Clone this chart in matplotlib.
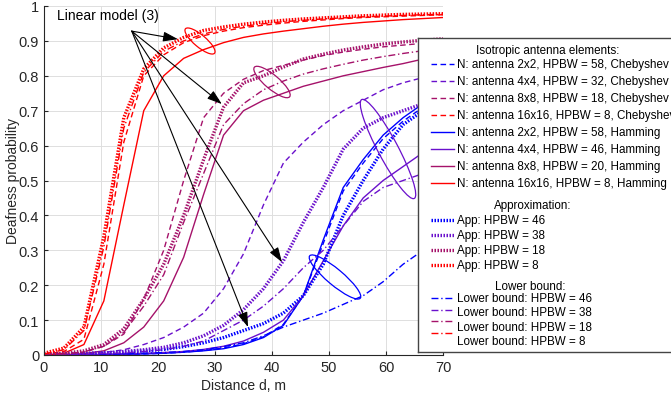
import matplotlib
matplotlib.use("Agg")
import matplotlib.pyplot as plt
from matplotlib.patches import Ellipse
from matplotlib.transforms import IdentityTransform

plt.rcParams['font.family'] = ['Liberation Sans', 'DejaVu Sans']

# distance grid, m
dist = [0, 3.5, 7, 10.5, 14, 17.5, 21, 24.5, 28, 31.5, 35, 38.5, 42, 45.5, 49, 52.5, 56, 59.5, 63, 66.5, 70]

# Chebyshev arrays (dashed)
cheb_2x2 = [0, 0, 0.001, 0.001, 0.002, 0.003, 0.005, 0.008, 0.013, 0.02, 0.032, 0.052, 0.088, 0.17, 0.32, 0.47, 0.55, 0.62, 0.67, 0.71, 0.75]
cheb_4x4 = [0, 0.001, 0.003, 0.007, 0.015, 0.03, 0.05, 0.08, 0.12, 0.19, 0.29, 0.43, 0.55, 0.61, 0.66, 0.70, 0.73, 0.76, 0.78, 0.795, 0.81]
cheb_8x8 = [0, 0.002, 0.008, 0.025, 0.06, 0.16, 0.30, 0.50, 0.68, 0.75, 0.79, 0.815, 0.83, 0.845, 0.858, 0.868, 0.876, 0.883, 0.888, 0.893, 0.897]
cheb_16x16 = [0.002, 0.01, 0.045, 0.26, 0.61, 0.80, 0.86, 0.895, 0.915, 0.928, 0.938, 0.945, 0.951, 0.956, 0.96, 0.964, 0.967, 0.969, 0.971, 0.973, 0.975]

# Hamming arrays (solid)
ham_2x2 = [0, 0, 0.001, 0.001, 0.002, 0.003, 0.005, 0.008, 0.012, 0.018, 0.03, 0.05, 0.085, 0.17, 0.33, 0.48, 0.56, 0.63, 0.68, 0.72, 0.76]
ham_4x4 = [0, 0, 0.001, 0.002, 0.003, 0.005, 0.007, 0.01, 0.016, 0.025, 0.04, 0.065, 0.10, 0.17, 0.27, 0.37, 0.45, 0.50, 0.54, 0.58, 0.61]
ham_8x8 = [0, 0.001, 0.004, 0.012, 0.035, 0.08, 0.155, 0.28, 0.46, 0.63, 0.70, 0.73, 0.75, 0.77, 0.785, 0.80, 0.812, 0.824, 0.835, 0.848, 0.86]
ham_16x16 = [0, 0.005, 0.03, 0.155, 0.43, 0.70, 0.80, 0.85, 0.875, 0.895, 0.91, 0.92, 0.928, 0.935, 0.942, 0.948, 0.953, 0.957, 0.961, 0.964, 0.967]

# approximation (thick dotted)
app_46 = [0.002, 0.003, 0.004, 0.006, 0.008, 0.012, 0.016, 0.024, 0.035, 0.05, 0.07, 0.09, 0.12, 0.17, 0.26, 0.40, 0.50, 0.59, 0.66, 0.70, 0.74]
app_38 = [0.001, 0.002, 0.004, 0.006, 0.01, 0.015, 0.022, 0.035, 0.055, 0.085, 0.13, 0.19, 0.27, 0.38, 0.48, 0.59, 0.65, 0.68, 0.70, 0.72, 0.735]
app_18 = [0.002, 0.005, 0.012, 0.03, 0.075, 0.16, 0.26, 0.40, 0.56, 0.71, 0.78, 0.80, 0.825, 0.848, 0.862, 0.874, 0.883, 0.891, 0.897, 0.902, 0.906]
app_8 = [0.005, 0.02, 0.08, 0.34, 0.68, 0.82, 0.88, 0.91, 0.93, 0.94, 0.948, 0.954, 0.959, 0.963, 0.966, 0.969, 0.972, 0.974, 0.976, 0.977, 0.978]

# lower bound (dash-dot)
low_46 = [0, 0, 0.001, 0.002, 0.003, 0.005, 0.007, 0.01, 0.015, 0.024, 0.035, 0.055, 0.08, 0.10, 0.12, 0.145, 0.17, 0.21, 0.26, 0.30, 0.33]
low_38 = [0, 0.001, 0.002, 0.004, 0.006, 0.01, 0.015, 0.025, 0.04, 0.07, 0.10, 0.14, 0.19, 0.25, 0.30, 0.37, 0.44, 0.48, 0.50, 0.52, 0.54]
low_18 = [0.001, 0.003, 0.009, 0.025, 0.065, 0.14, 0.23, 0.38, 0.52, 0.66, 0.72, 0.76, 0.785, 0.805, 0.82, 0.833, 0.845, 0.855, 0.864, 0.872, 0.879]
low_8 = [0.003, 0.015, 0.07, 0.31, 0.65, 0.81, 0.87, 0.90, 0.92, 0.933, 0.942, 0.949, 0.955, 0.959, 0.963, 0.966, 0.969, 0.971, 0.973, 0.975, 0.976]

colors = ['#0000FF', '#6A10CC', '#A5126A', '#FF0000']

cheb_labels = ["N: antenna 2x2, HPBW = 58, Chebyshev", "N: antenna 4x4, HPBW = 32, Chebyshev",
               "N: antenna 8x8, HPBW = 18, Chebyshev", "N: antenna 16x16, HPBW = 8, Chebyshev"]
ham_labels = ["N: antenna 2x2, HPBW = 58, Hamming", "N: antenna 4x4, HPBW = 46, Hamming",
              "N: antenna 8x8, HPBW = 20, Hamming", "N: antenna 16x16, HPBW = 8, Hamming"]
app_labels = ["App: HPBW = 46", "App: HPBW = 38", "App: HPBW = 18", "App: HPBW = 8"]
low_labels = ["Lower bound: HPBW = 46", "Lower bound: HPBW = 38",
              "Lower bound: HPBW = 18", "Lower bound: HPBW = 8"]

DASH = dict(ls=(0, (4, 2.5)), lw=1.0)
SOLID = dict(ls='-', lw=1.0)
DOT = dict(ls=(0, (0.45, 0.45)), lw=2.4)
DASHDOT = dict(ls=(0, (5, 2, 1, 2)), lw=1.0)

fig = plt.figure(figsize=(6.71, 4.02), dpi=100)
ax = fig.add_axes([44 / 671, 46 / 402, 399 / 671, 349 / 402])

groups = [
    ([cheb_2x2, cheb_4x4, cheb_8x8, cheb_16x16], DASH),
    ([ham_2x2, ham_4x4, ham_8x8, ham_16x16], SOLID),
    ([app_46, app_38, app_18, app_8], DOT),
    ([low_46, low_38, low_18, low_8], DASHDOT),
]
for series, style in groups:
    for vals, c in zip(series, colors):
        ax.plot(dist, vals, color=c, **style)

ax.set_xlim(0, 70)
ax.set_ylim(0, 1)
ax.set_xticks(range(0, 71, 10))
ax.set_yticks([i / 10 for i in range(11)])
ax.set_yticklabels(["0", "0.1", "0.2", "0.3", "0.4", "0.5", "0.6", "0.7", "0.8", "0.9", "1"])
ax.grid(True, color='#dedede', lw=0.7)
ax.set_axisbelow(True)
for s in ['top', 'right']:
    ax.spines[s].set_visible(False)
for s in ['left', 'bottom']:
    ax.spines[s].set_color('#262626')
    ax.spines[s].set_linewidth(0.8)
ax.tick_params(direction='in', length=3, labelsize=10.5, colors='#262626')
ax.set_xlabel("Distance d, m", fontsize=10, color='#262626', labelpad=3)
ax.set_ylabel("Deafness probability", fontsize=10, color='#262626', labelpad=-1)

# annotation: linear model arrows
ax.text(2.3, 0.975, "Linear model (3)", fontsize=10, va='center', ha='left')
for tip in [(23.5, 0.905), (31.2, 0.719), (41.75, 0.266), (35.8, 0.08)]:
    ax.annotate("", xy=tip, xytext=(15.4, 0.928),
                arrowprops=dict(arrowstyle='-|>,head_length=0.9,head_width=0.3',
                                color='black', lw=0.8, shrinkA=0, shrinkB=0))

# ellipses marking curve groups (pixel positions)
for (cx, cy, w, h, ang), c in zip([(335, 278, 66, 16, -40), (388, 150, 112, 20, -62),
                                   (272, 83, 46, 14, -40), (200, 42, 38, 12, -40)], colors):
    fig.add_artist(Ellipse((cx, 402 - cy), w, h, angle=ang, fill=False, ec=c, lw=0.9,
                           transform=IdentityTransform()))

# legend box
lg = fig.add_axes([418 / 671, 49 / 402, 320 / 671, 314 / 402], zorder=5)
lg.set_xlim(418, 738)
lg.set_ylim(353, 39)
lg.set_xticks([])
lg.set_yticks([])
lg.set_facecolor('white')
for s in lg.spines.values():
    s.set_color('#444444')
    s.set_linewidth(1.0)

FS = 8.4
lg.text(548, 51, "Isotropic antenna elements:", fontsize=FS, ha='center', va='center')
rows = [65 + 17 * i for i in range(8)]
entries = [(l, c, DASH) for l, c in zip(cheb_labels, colors)] + \
          [(l, c, SOLID) for l, c in zip(ham_labels, colors)]
for y, (lab, c, st) in zip(rows, entries):
    lg.plot([431, 454], [y, y], color=c, **st)
    lg.text(457, y, lab, fontsize=FS, va='center')

lg.text(533, 206, "Approximation:", fontsize=FS, ha='center', va='center')
for y, lab, c in zip([221, 236, 251, 266], app_labels, colors):
    lg.plot([431, 454], [y, y], color=c, **DOT)
    lg.text(457, y, lab, fontsize=FS, va='center')

lg.text(530, 287, "Lower bound:", fontsize=FS, ha='center', va='center')
for yl, yt, lab, c in zip([299, 311, 322, 334], [299, 313, 328, 342], low_labels, colors):
    lg.plot([431, 454], [yl, yl], color=c, **DASHDOT)
    lg.text(457, yt, lab, fontsize=FS, va='center')

fig.savefig("out.png", dpi=100)
